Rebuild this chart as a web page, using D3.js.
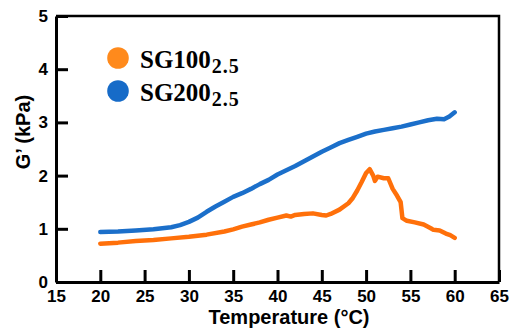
<!DOCTYPE html>
<html>
<head>
<meta charset="utf-8">
<script src="https://cdn.jsdelivr.net/npm/d3@7"></script>
<style>
  body { margin: 0; background: #fff; }
  svg { display: block; }
</style>
</head>
<body>
<svg id="chart" width="518" height="334"></svg>
<script>

// data
var tempSG200 = [20, 22, 24, 26, 28, 29, 30, 31, 32, 33, 34, 35, 36, 37, 38, 39, 40, 41, 42, 43, 44, 45, 46, 47, 48, 49, 50, 51, 52, 53, 54, 55, 56, 57, 58, 58.8, 59.4, 60];
var gSG200 = [0.94, 0.95, 0.97, 0.99, 1.03, 1.07, 1.13, 1.21, 1.32, 1.42, 1.51, 1.60, 1.67, 1.75, 1.84, 1.92, 2.02, 2.10, 2.18, 2.27, 2.36, 2.45, 2.53, 2.61, 2.67, 2.73, 2.79, 2.83, 2.86, 2.89, 2.92, 2.96, 3.00, 3.04, 3.07, 3.06, 3.11, 3.19];

var tempSG100 = [20, 22, 24, 26, 28, 30, 32, 34, 35, 36, 37, 38, 39, 40, 41, 41.5, 42, 43, 44, 45, 45.5, 46, 47, 48, 48.5, 49, 49.5, 50, 50.4, 50.8, 51.0, 51.3, 52.0, 52.5, 53.0, 53.5, 53.9, 54.1, 54.6, 55.5, 56.5, 57.3, 57.6, 58.3, 59.0, 59.5, 60];
var gSG100 = [0.72, 0.74, 0.77, 0.79, 0.82, 0.85, 0.89, 0.95, 0.99, 1.04, 1.08, 1.12, 1.17, 1.21, 1.25, 1.23, 1.26, 1.28, 1.29, 1.26, 1.25, 1.28, 1.36, 1.48, 1.58, 1.72, 1.88, 2.05, 2.12, 2.00, 1.90, 1.98, 1.95, 1.95, 1.75, 1.62, 1.50, 1.20, 1.15, 1.12, 1.08, 1.01, 0.98, 0.97, 0.91, 0.88, 0.83];

var xTicks = [15, 20, 25, 30, 35, 40, 45, 50, 55, 60, 65];
var yTicks = [0, 1, 2, 3, 4, 5];

var seriesNames = ["SG100", "SG200"];
var seriesSub = "2.5";

var lineColors = ["#ff700a", "#1b6fca"];
var legendColors = ["#ff8a1c", "#166bc8"];

var svg = d3.select("#chart");

const margin = { top: 16, right: 19, bottom: 52, left: 56 };
const width = 518;
const height = 334;
const Innerwidth = width - margin.left - margin.right;
const Innerheight = height - margin.top - margin.bottom;

var g = svg.append("g")
    .attr("transform", `translate(${margin.left},${margin.top})`);

var xScale = d3.scaleLinear().domain([15, 65]).range([0, Innerwidth]);
var yScale = d3.scaleLinear().domain([0, 5]).range([Innerheight, 0]);

// top and right frame
g.append("path")
    .attr("d", `M0,0H${Innerwidth}V${Innerheight}`)
    .attr("fill", "none")
    .attr("stroke", "#000")
    .attr("stroke-width", 2.5);

// x axis
var xAxis = g.append("g")
    .attr("transform", `translate(0,${Innerheight})`)
    .call(d3.axisBottom(xScale)
        .tickValues(xTicks)
        .tickFormat(d3.format("d"))
        .tickSizeInner(-12)
        .tickSizeOuter(0)
        .tickPadding(8));

// y axis
var yAxis = g.append("g")
    .call(d3.axisLeft(yScale)
        .tickValues(yTicks)
        .tickFormat(d3.format("d"))
        .tickSizeInner(-12)
        .tickSizeOuter(0)
        .tickPadding(8));

[xAxis, yAxis].forEach(function (ax) {
    ax.select(".domain").attr("stroke", "#000").attr("stroke-width", 3);
    ax.selectAll(".tick line").attr("stroke", "#000").attr("stroke-width", 3);
    ax.selectAll(".tick text")
        .attr("fill", "#000")
        .style("font-family", "Liberation Sans, Arial, sans-serif")
        .style("font-weight", "bold")
        .style("font-size", "17px");
});

// axis titles
svg.append("text")
    .attr("x", 289)
    .attr("y", 324)
    .style("text-anchor", "middle")
    .style("font-family", "Liberation Sans, Arial, sans-serif")
    .style("font-weight", "bold")
    .style("font-size", "20px")
    .text("Temperature (°C)");

svg.append("text")
    .attr("transform", "rotate(-90)")
    .attr("x", -132)
    .attr("y", 30)
    .style("text-anchor", "middle")
    .style("font-family", "Liberation Sans, Arial, sans-serif")
    .style("font-weight", "bold")
    .style("font-size", "20px")
    .text("G’ (kPa)");

// lines
var line = d3.line()
    .x(d => xScale(d[0]))
    .y(d => yScale(d[1]));

var series = [
    d3.zip(tempSG100, gSG100),
    d3.zip(tempSG200, gSG200)
];

series.forEach(function (s, i) {
    g.append("path")
        .datum(s)
        .attr("fill", "none")
        .attr("stroke", lineColors[i])
        .attr("stroke-width", 4.5)
        .attr("stroke-linejoin", "round")
        .attr("stroke-linecap", "round")
        .attr("d", line);
});

// legend
var legend = svg.append("g")
    .attr("transform", "translate(118,58)");

legend.selectAll(".legend-item")
    .data(seriesNames)
    .enter()
    .append("g")
    .attr("class", "legend-item")
    .attr("transform", function (d, i) { return `translate(0, ${i * 33})`; })
    .each(function (d, i) {
        d3.select(this).append("circle")
            .attr("r", 10.8)
            .attr("fill", legendColors[i]);

        var t = d3.select(this).append("text")
            .attr("x", 22)
            .attr("y", 10)
            .style("font-family", "Liberation Serif, Times New Roman, serif")
            .style("font-weight", "bold")
            .style("font-size", "25px")
            .attr("fill", "#000");
        t.append("tspan").text(d);
        t.append("tspan")
            .attr("dy", 5)
            .attr("dx", 1)
            .style("font-size", "20px")
            .style("letter-spacing", "1px")
            .text(seriesSub);
    });

</script>
</body>
</html>
